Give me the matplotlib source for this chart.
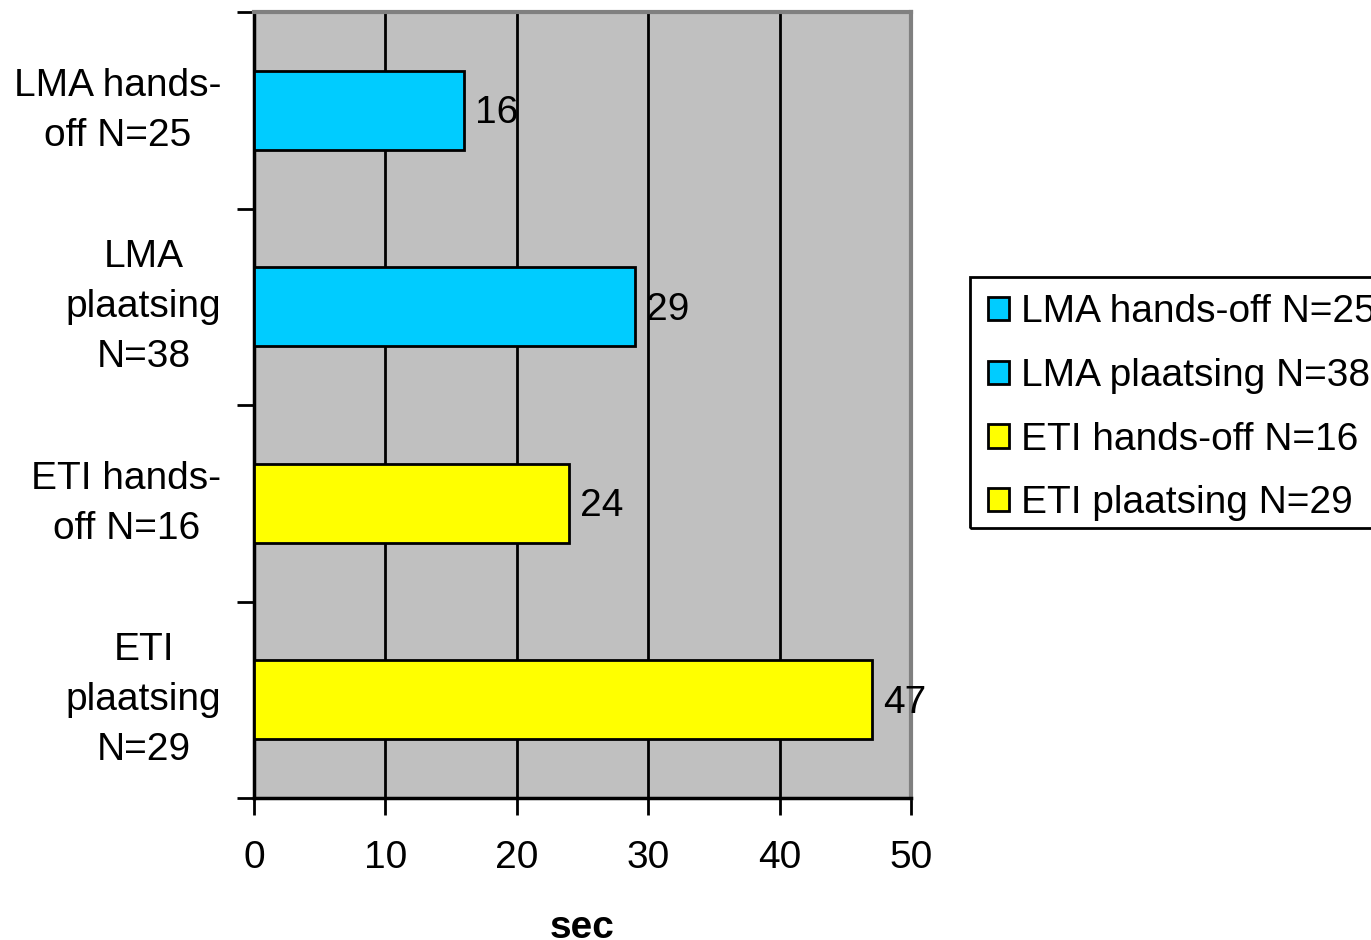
import matplotlib
matplotlib.use("Agg")
import matplotlib.pyplot as plt
from matplotlib.patches import Patch, Rectangle

plt.rcParams['font.family'] = ['Liberation Sans', 'DejaVu Sans']

categories = ["LMA hands-\noff N=25", "LMA\nplaatsing\nN=38", "ETI hands-\noff N=16", "ETI\nplaatsing\nN=29"]
series_names = ["LMA hands-off N=25", "LMA plaatsing N=38", "ETI hands-off N=16", "ETI plaatsing N=29"]
values = [16, 29, 24, 47]
colors = ["#00CCFF", "#00CCFF", "#FFFF00", "#FFFF00"]
xticks = [0, 10, 20, 30, 40, 50]

FS = 28

fig = plt.figure(figsize=(13.71, 9.40), dpi=100)
ax = fig.add_axes([254/1371, 1-798/940, (911-254)/1371, (798-12)/940])
ax.set_facecolor("#C0C0C0")

for i, (v, c, name) in enumerate(zip(values, colors, series_names)):
    ax.barh(i, v, height=0.4, color=c, edgecolor="black", linewidth=2, label=name, zorder=3)
    ax.annotate(str(v), xy=(v, i), xytext=(8, -2), textcoords="offset points",
                va="center", ha="left", fontsize=FS, zorder=4)

ax.set_xlim(0, 50)
ax.set_ylim(3.5, -0.5)
ax.set_xticks(xticks)
ax.set_xticklabels([str(t) for t in xticks], fontsize=FS)
ax.tick_params(axis="x", length=12, width=2, pad=18, direction="out")
ax.set_yticks([-0.5, 0.5, 1.5, 2.5, 3.5])
ax.set_yticklabels([])
ax.tick_params(axis="y", which="major", length=12, width=2, direction="out")

for i, cat in enumerate(categories):
    ax.annotate(cat, xy=(0, i), xycoords=("axes fraction", "data"),
                xytext=(-23.5, -0.5), textcoords="offset points",
                ha="right", va="center", multialignment="center",
                linespacing=1.5, fontsize=FS, annotation_clip=False)

ax.grid(axis="x", color="black", linewidth=2, zorder=1)
ax.set_axisbelow(True)

for s in ["left", "bottom"]:
    ax.spines[s].set_color("black")
    ax.spines[s].set_linewidth(2.5)
for s in ["top", "right"]:
    ax.spines[s].set_color("#808080")
    ax.spines[s].set_linewidth(3)

ax.set_xlabel("sec", fontsize=FS, fontweight="bold", labelpad=25)

handles = [Patch(facecolor=c, edgecolor="black", linewidth=2) for c in colors]
leg = fig.legend(handles, series_names, loc="upper left",
                 bbox_to_anchor=(970/1371, 1-277/940), fontsize=FS,
                 frameon=False,
                 handlelength=0.55, handleheight=0.55, handletextpad=0.3,
                 labelspacing=0.71, borderpad=0.45, borderaxespad=0)

fig.patches.append(Rectangle((970/1371, 1-528/940), 420/1371, (528-277)/940,
                             transform=fig.transFigure, fill=False,
                             edgecolor="black", linewidth=2))

fig.savefig("out.png", dpi=100)
